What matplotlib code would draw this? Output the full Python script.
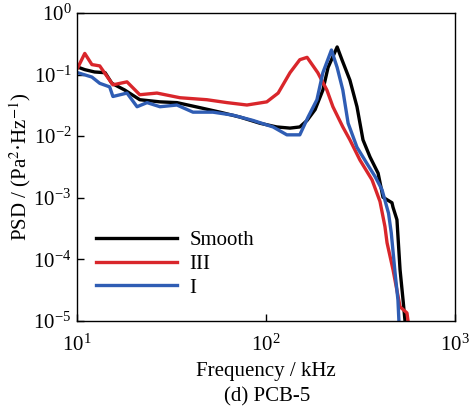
import matplotlib
matplotlib.use('Agg')
import matplotlib.pyplot as plt
import numpy as np

plt.rcParams['font.family'] = ['Liberation Serif', 'DejaVu Serif']
plt.rcParams['mathtext.fontset'] = 'stix'

# Smooth
f_smooth = [10.1, 11.0, 12.4, 14.1, 15.3, 17.9, 21.5, 27.5, 33.8, 44.7, 57.1, 72.8,
            92.9, 114, 134, 151, 165, 182, 200, 213, 238, 253, 278, 303, 326, 355,
            392, 416, 464, 470, 493, 512, 531, 544, 560]
psd_smooth = [0.132, 0.12, 0.11, 0.107, 0.072, 0.056, 0.039, 0.036, 0.035, 0.029, 0.0245,
              0.0204, 0.0162, 0.0141, 0.0135, 0.0141, 0.018, 0.027, 0.056, 0.13, 0.28,
              0.17, 0.081, 0.03, 0.0087, 0.0046, 0.0025, 0.00102, 0.00083, 0.0007,
              0.00044, 6.8e-5, 2.2e-5, 1e-5, 5e-6]

# III
f_iii = [10.1, 11.0, 12.0, 13.2, 15.5, 18.4, 21.5, 26.5, 35.1, 48.7, 62.2, 79.3, 101,
         116, 134, 151, 165, 188, 210, 226, 255, 278, 314, 364, 401, 426, 437, 470,
         512, 557, 570]
psd_iii = [0.129, 0.22, 0.145, 0.138, 0.068, 0.076, 0.047, 0.05, 0.042, 0.039, 0.035,
           0.032, 0.036, 0.05, 0.107, 0.174, 0.19, 0.107, 0.056, 0.03, 0.0141, 0.0087,
           0.0041, 0.00195, 0.00087, 0.00034, 0.000186, 6.8e-5, 1.7e-5, 1.35e-5, 8e-6]

# I
f_i = [10.1, 12.0, 13.2, 14.9, 15.5, 18.4, 20.8, 23.5, 27.5, 33.8, 41.1, 52.4, 66.9,
       85.3, 109, 129, 151, 167, 186, 200, 222, 238, 255, 272, 303, 342, 378, 411,
       445, 460, 482, 499, 505, 515]
psd_i = [0.107, 0.091, 0.072, 0.063, 0.044, 0.05, 0.03, 0.035, 0.03, 0.032, 0.0245,
         0.0245, 0.0219, 0.018, 0.0141, 0.0105, 0.0105, 0.0204, 0.039, 0.107, 0.25,
         0.13, 0.056, 0.0162, 0.0066, 0.0036, 0.0022, 0.00135, 0.00056, 0.00027,
         6e-5, 2.2e-5, 1e-5, 6e-6]

fig = plt.figure(figsize=(4.72, 4.07), dpi=100)
ax = fig.add_axes([0.163, 0.2113, 0.801, 0.757])

ax.plot(f_smooth, psd_smooth, color='black', lw=2.4, label='Smooth')
ax.plot(f_iii, psd_iii, color='#d9262b', lw=2.4, label='III')
ax.plot(f_i, psd_i, color='#2f5db4', lw=2.4, label='I')

ax.set_xscale('log')
ax.set_yscale('log')
ax.set_xlim(10, 1000)
ax.set_ylim(1e-5, 1)
ax.minorticks_off()
ax.set_xticks([10, 100, 1000])
ax.set_yticks([1e-5, 1e-4, 1e-3, 1e-2, 1e-1, 1])
ax.tick_params(direction='in', labelsize=15, length=5, width=1)
ax.tick_params(axis='x', pad=10)
ax.tick_params(axis='y', pad=4)
for s in ax.spines.values():
    s.set_linewidth(1.0)

ax.set_xlabel('Frequency / kHz', fontsize=15, labelpad=4)
ax.set_ylabel(r'PSD / (Pa$^2$·Hz$^{-1}$)', fontsize=15, labelpad=0)
fig.text(0.565, 0.014, '(d) PCB-5', ha='center', fontsize=15)

ax.legend(loc='lower left', bbox_to_anchor=(0.0, 0.015), frameon=False, fontsize=15,
          handlelength=3.9, handletextpad=0.6, labelspacing=0.2, borderaxespad=0.5)

fig.savefig('out.png', dpi=100)
